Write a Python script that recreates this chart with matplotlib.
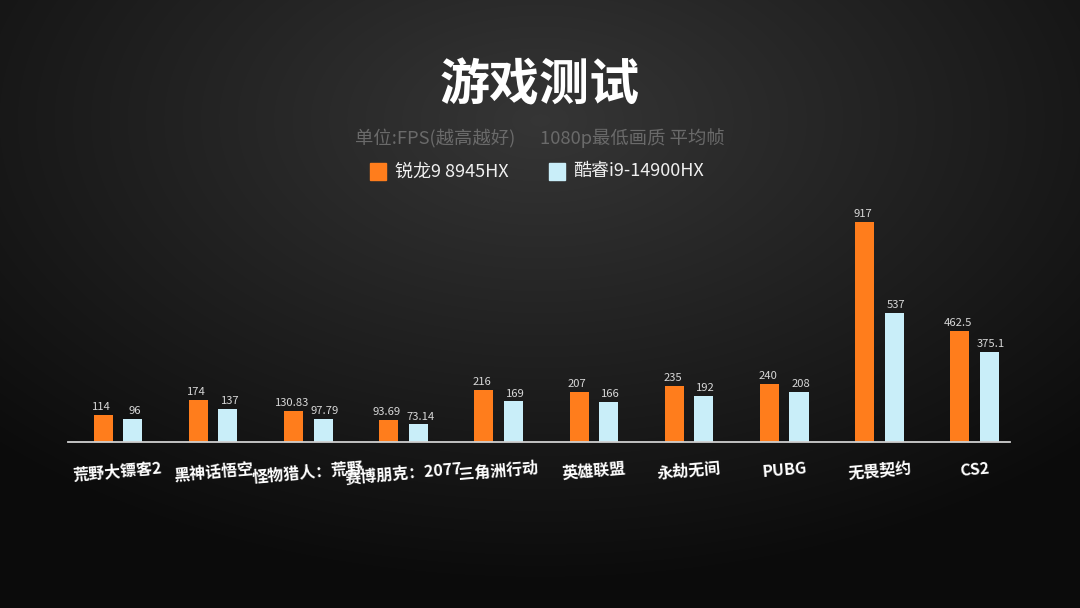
import numpy as np
import matplotlib.pyplot as plt

plt.rcParams['font.family'] = ['Noto Sans CJK SC', 'DejaVu Sans']

games = ['荒野大镖客2', '黑神话悟空', '怪物猎人：荒野', '赛博朋克：2077', '三角洲行动',
         '英雄联盟', '永劫无间', 'PUBG', '无畏契约', 'CS2']
amd = [114, 174, 130.83, 93.69, 216, 207, 235, 240, 917, 462.5]
intel = [96, 137, 97.79, 73.14, 169, 166, 192, 208, 537, 375.1]
amd_labels = ['114', '174', '130.83', '93.69', '216', '207', '235', '240', '917', '462.5']
intel_labels = ['96', '137', '97.79', '73.14', '169', '166', '192', '208', '537', '375.1']
series_names = ['锐龙9 8945HX', '酷睿i9-14900HX']

ORANGE = '#ff7d1c'
BLUE = '#c9eef9'

fig = plt.figure(figsize=(10.8, 6.08), dpi=100)

# background: dark with soft light spot near the top
bg = fig.add_axes([0, 0, 1, 1])
yy, xx = np.mgrid[0:608, 0:1080]
d = np.sqrt(((xx - 540) / 700.0) ** 2 + ((yy - 120) / 420.0) ** 2)
v = np.clip(0.21 - 0.15 * d, 0.045, 0.21)
bg.imshow(np.dstack([v, v, v]), extent=[0, 1, 0, 1], aspect='auto', zorder=0)
bg.axis('off')

ax = fig.add_axes([0.063, 0.273, 0.872, 0.395])
ax.patch.set_alpha(0)
x = np.arange(len(games))
w = 0.2
off = 0.155
ax.bar(x - off, amd, w, color=ORANGE)
ax.bar(x + off, intel, w, color=BLUE)

for i in range(len(games)):
    ax.text(x[i] - off - 0.02, amd[i] + 12, amd_labels[i], ha='center', va='bottom',
            color='#d8d8d8', fontsize=8.1)
    ax.text(x[i] + off + 0.02, intel[i] + 12, intel_labels[i], ha='center', va='bottom',
            color='#d8d8d8', fontsize=8.1)

ax.set_xlim(-0.525, 9.37)
ax.set_ylim(0, 1000)
for s in ['top', 'right', 'left']:
    ax.spines[s].set_visible(False)
ax.spines['bottom'].set_color('#d0d0d0')
ax.spines['bottom'].set_linewidth(1.3)
ax.set_yticks([])
ax.set_xticks(x)
ax.set_xticklabels(games, rotation=5, color='white', fontsize=11.5, fontweight='bold')
ax.tick_params(axis='x', length=0, pad=13)

fig.text(0.5, 0.858, '游戏测试', ha='center', va='center', color='white',
         fontsize=36, fontweight='bold')
fig.text(0.5, 0.773, '单位:FPS(越高越好)      1080p最低画质 平均帧', ha='center', va='center',
         color='#6a6a6a', fontsize=13.2)

# legend
fig.patches.append(plt.Rectangle((0.343, 0.704), 0.0148, 0.028, color=ORANGE,
                                 transform=fig.transFigure, figure=fig))
fig.text(0.366, 0.718, series_names[0], va='center', color='#f0f0f0', fontsize=13)
fig.patches.append(plt.Rectangle((0.508, 0.704), 0.0148, 0.028, color=BLUE,
                                 transform=fig.transFigure, figure=fig))
fig.text(0.531, 0.718, series_names[1], va='center', color='#f0f0f0', fontsize=13)

fig.savefig('out.png', dpi=100)
